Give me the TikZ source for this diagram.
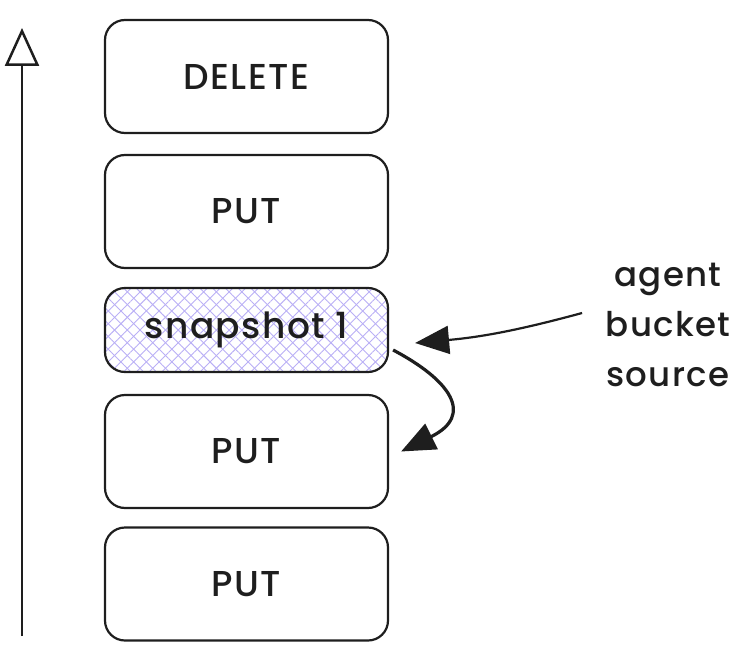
\documentclass[tikz,border=0pt]{standalone}
\usepackage{fontspec}
\setmainfont{Poppins}[BoldFont={* Medium}, LetterSpace=4]
\usetikzlibrary{arrows.meta,patterns.meta,calc}
\definecolor{hatchviolet}{RGB}{185,175,245}
\definecolor{ink}{RGB}{30,30,30}

\begin{document}
\begin{tikzpicture}[x=1pt, y=-1pt, ink,
  box/.style = {draw, line width=2.2pt, rounded corners=20pt, minimum width=283pt, minimum height=113pt, font=\fontsize{36}{40}\bfseries},
  note/.style = {align=center, font=\fontsize{34}{50}\bfseries}]
\useasboundingbox (0,0) rectangle (752,661);
% log entries
\node[box](del)at(246.5,76.5){DELETE};
\node[box](put3)at(246.5,211.5){PUT};
\node[box, minimum height=84pt,
  preaction={pattern={Lines[angle=45,distance=9pt,line width=0.9pt]}, pattern color=hatchviolet},
  preaction={pattern={Lines[angle=-45,distance=9pt,line width=0.9pt]}, pattern color=hatchviolet}](snap)at(246.5,330){snapshot 1};
\node[box](put2)at(246.5,451.5){PUT};
\node[box](put1)at(246.5,584){PUT};
% time axis
\coordinate(t0)at(22,636);
\coordinate(t1)at(22,28);
\path[draw, line width=2.5pt, -{Triangle[open, length=38pt, width=34pt]}](t0)to(t1);
% source label
\node[note](src)at(668,325){agent\\bucket\\source};
\coordinate(a1)at($(src.west)+(-20,-12)$);
\coordinate(a2)at($(snap.east)+(26,13)$);
\path[draw, line width=2.2pt, -{Triangle[length=34pt, width=28pt]}](a1)to[bend left=5](a2);
% restore
\coordinate(b1)at($(snap.east)+(4,20)$);
\coordinate(b2)at($(put2.east)+(12,0)$);
\path[draw, line width=3.2pt, -{Triangle[length=34pt, width=28pt]}](b1).. controls (450,380) and (475,415) ..(b2);
\end{tikzpicture}
\end{document}
